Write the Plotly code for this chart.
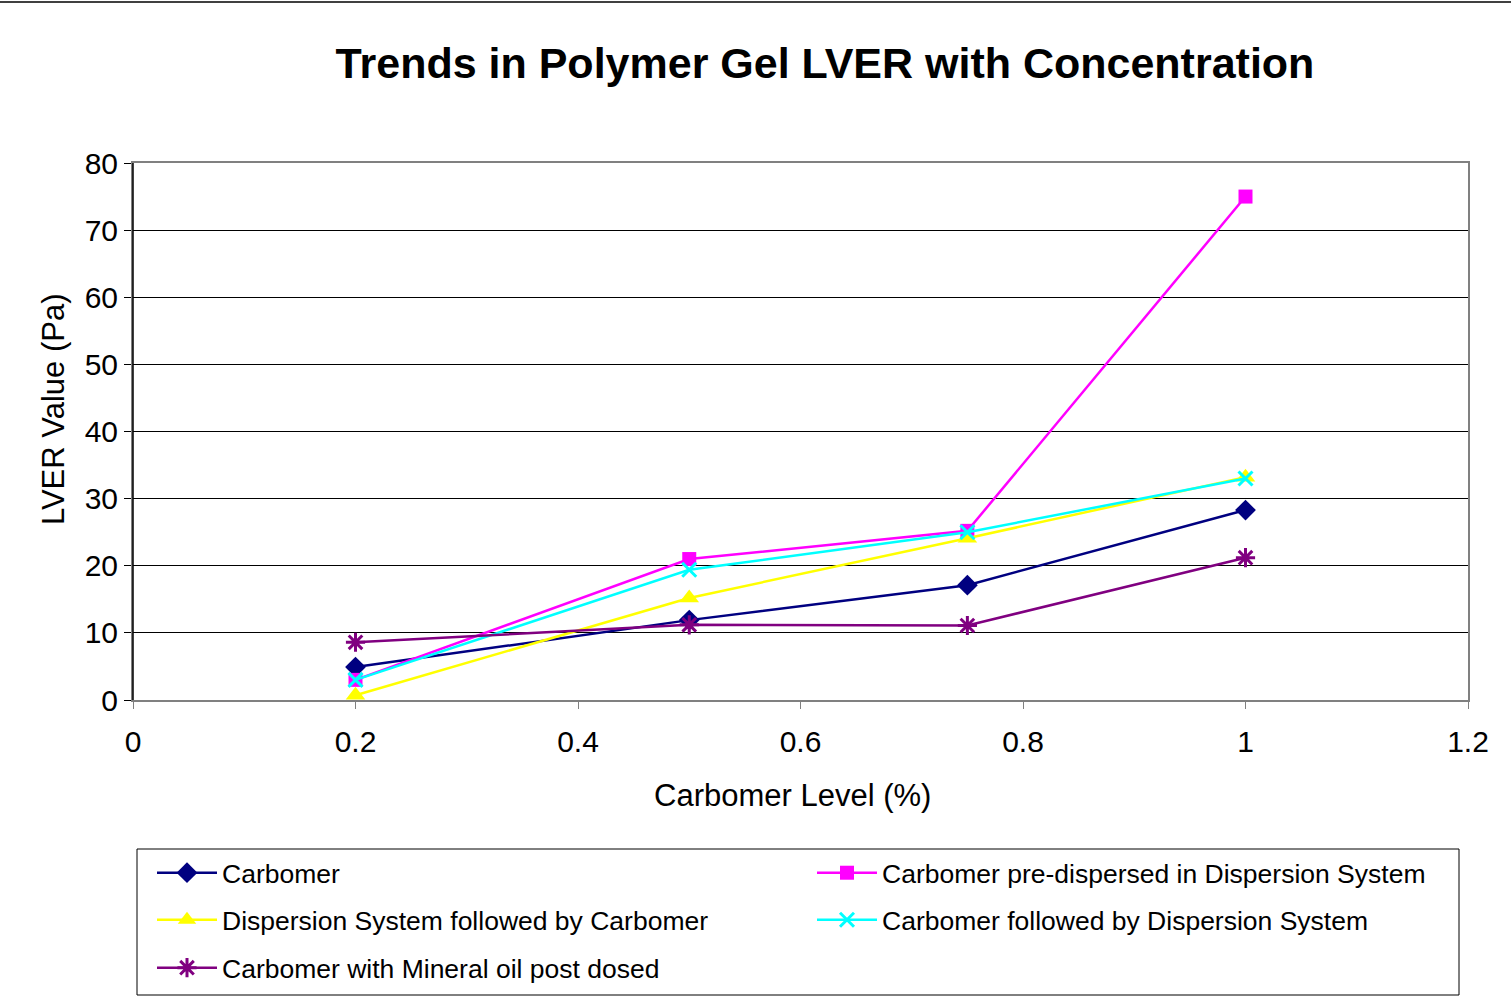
import plotly.graph_objects as go

x_levels = [0.2, 0.5, 0.75, 1.0]
carbomer = [4.9, 11.9, 17.1, 28.3]
pre_dispersed = [3.0, 21.0, 25.2, 75.0]
disp_then_carb = [0.7, 15.2, 24.1, 33.2]
carb_then_disp = [3.0, 19.4, 25.0, 33.0]
mineral_oil = [8.6, 11.2, 11.1, 21.2]

names = [
    "Carbomer",
    "Carbomer pre-dispersed in Dispersion System",
    "Dispersion System followed by Carbomer",
    "Carbomer followed by Dispersion System",
    "Carbomer with Mineral oil post dosed",
]
series = [carbomer, pre_dispersed, disp_then_carb, carb_then_disp, mineral_oil]
colors = ["#000080", "#FF00FF", "#FFFF00", "#00FFFF", "#800080"]
symbols = ["diamond", "square", "triangle-up", "x-thin", "asterisk"]
sizes = [16, 14, 17, 14, 16]
legend_ids = ["legend", "legend", "legend2", "legend2", "legend3"]

FONT = "Liberation Sans, Arial, sans-serif"

fig = go.Figure()
for n, s, c, sym, sz, lg in zip(names, series, colors, symbols, sizes, legend_ids):
    marker = dict(symbol=sym, color=c, size=sz)
    if sym in ("x-thin", "asterisk"):
        marker["line"] = dict(color=c, width=3)
    else:
        marker["line"] = dict(width=0)
    fig.add_trace(go.Scatter(x=x_levels, y=s, name=n, mode="lines+markers",
                             line=dict(color=c, width=2.5), marker=marker, legend=lg))

W, H = 1511, 1005
L, R, T, B = 133, 43, 163, 305
pw, ph = W - L - R, H - T - B

def px(xp):
    return (xp - L) / pw

def py(yp):
    return (H - B - yp) / ph

legend_common = dict(orientation="h", xanchor="left", yanchor="middle",
                     entrywidth=585, entrywidthmode="pixels",
                     borderwidth=0, bgcolor="rgba(0,0,0,0)", itemwidth=60,
                     font=dict(size=26.5, family=FONT, color="black"))

fig.update_layout(
    width=W, height=H,
    margin=dict(l=L, r=R, t=T, b=B, autoexpand=False),
    paper_bgcolor="white", plot_bgcolor="white",
    font=dict(family=FONT, color="black"),
    title=dict(text="<b>Trends in Polymer Gel LVER with Concentration</b>",
               font=dict(size=43, family=FONT, color="black"),
               x=825 / W, xanchor="center", xref="container",
               y=1 - 63 / H, yanchor="middle", yref="container"),
    showlegend=True,
    legend=dict(x=px(152), y=py(873), **legend_common),
    legend2=dict(x=px(152), y=py(920), **legend_common),
    legend3=dict(x=px(152), y=py(968), **legend_common),
    xaxis=dict(range=[0, 1.2], dtick=0.2, tick0=0, showgrid=False, zeroline=False,
               showline=True, linecolor="#808080", linewidth=2, mirror=True,
               ticks="outside", ticklen=7, tickcolor="#808080", tickwidth=1,
               tickfont=dict(size=30, family=FONT, color="black"),
               ticklabelstandoff=7),
    yaxis=dict(range=[0, 80], dtick=10, showgrid=True, gridcolor="black", gridwidth=1,
               zeroline=False, showline=True, linecolor="#808080", linewidth=2, mirror=True,
               ticks="outside", ticklen=7, tickcolor="black", tickwidth=1,
               tickfont=dict(size=30, family=FONT, color="black"),
               ticklabelstandoff=0),
)

# black left axis line over the grey frame
fig.add_shape(type="line", xref="paper", yref="paper", x0=0, x1=0, y0=0, y1=1,
              line=dict(color="black", width=1.5))
# top rule of the page
fig.add_shape(type="line", xref="paper", yref="paper", x0=px(0), x1=px(W), y0=py(2), y1=py(2),
              line=dict(color="black", width=1.5))
# legend box
fig.add_shape(type="rect", xref="paper", yref="paper", x0=px(137), x1=px(1459),
              y0=py(849), y1=py(995), line=dict(color="black", width=1))

fig.add_annotation(text="Carbomer Level (%)", xref="paper", yref="paper",
                   x=px(792), y=py(795), showarrow=False, xanchor="center", yanchor="middle",
                   font=dict(size=31, family=FONT, color="black"))
fig.add_annotation(text="LVER Value (Pa)", xref="paper", yref="paper", textangle=-90,
                   x=px(53), y=py(410), showarrow=False, xanchor="center", yanchor="middle",
                   font=dict(size=31, family=FONT, color="black"))

fig.write_html("out.html", config={"displayModeBar": False},
               post_script="document.body.style.margin='0px';document.body.style.overflow='hidden';")
